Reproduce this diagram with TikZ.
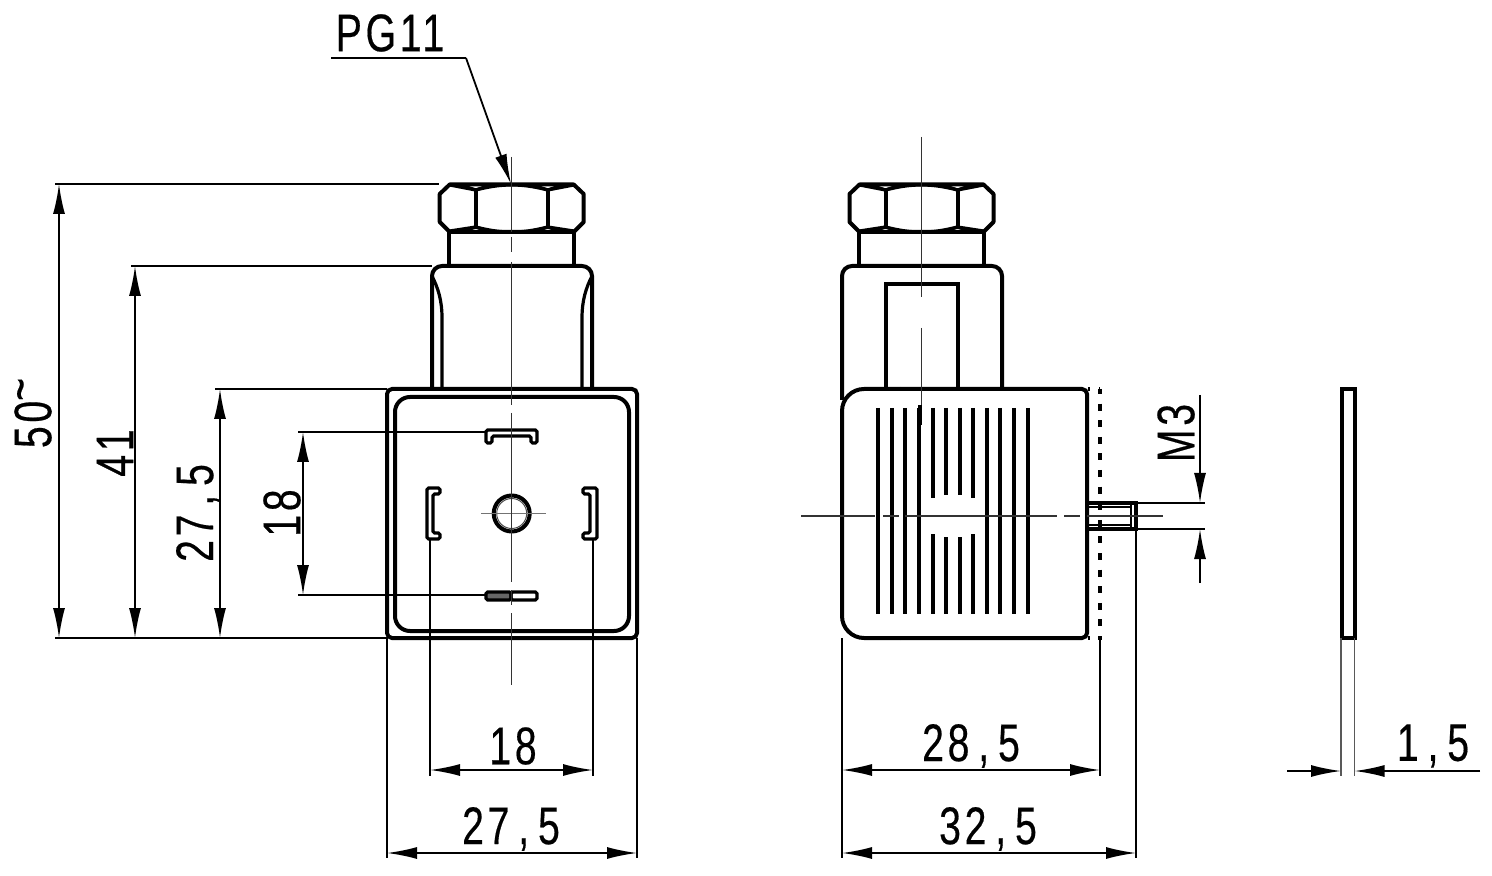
\documentclass[tikz,border=0pt]{standalone}
\usepackage{fontspec}
\setmainfont[FakeStretch=0.74,LetterSpace=7,FakeBold=0.35]{Liberation Sans}
\usetikzlibrary{arrows.meta}
\newcommand{\nutview}[1]{%
 \begin{scope}[shift={(#1,0)}]
  \draw[heavy,line join=round] (-72,194)--(-62,184.5)--(62,184.5)--(72,194)--(72,222)--(62,232)--(-62,232)--(-72,222)--cycle;
  \draw[medium] (-62,185)--(-36,190) .. controls (-20,186) and (-10,185) .. (0,185) .. controls (10,185) and (20,186) .. (36,190)--(62,185);
  \draw[medium] (-62,231)--(-36,227) .. controls (-20,231) and (-10,232) .. (0,232) .. controls (10,232) and (20,231) .. (36,227)--(62,231);
  \draw[medium] (-48,186)--(-36,190)--(-24,186) (48,186)--(36,190)--(24,186);
  \draw[medium] (-48,231)--(-36,227)--(-24,231) (48,231)--(36,227)--(24,231);
  \draw[heavy] (-36,190)--(-36,227) (36,190)--(36,227);
  \draw[heavy] (-62.5,232)--(-62.5,266) (62.5,232)--(62.5,266);
 \end{scope}}
\tikzset{
 x=0.5pt,y=-0.5pt,
 heavy/.style={line width=2pt,black},
 medium/.style={line width=1.6pt,black},
 thin line/.style={line width=0.9pt,black},
 axis line/.style={line width=0.75pt,black!80},
 ext/.style={thin line},
 dimtwo/.style={thin line,{Latex[length=15pt,width=6pt]}-{Latex[length=15pt,width=6pt]}},
 dimend/.style={thin line,-{Latex[length=15pt,width=6pt]}},
 lab/.style={inner sep=0pt,font=\fontsize{26.5}{31}\selectfont},
 slot/.style={line width=2pt,black},
}
\begin{document}
\begin{tikzpicture}
\useasboundingbox (0,0) rectangle (1492,876);
\fill[white] (0,0) rectangle (1492,876);

% ---- left view
\nutview{511.7}
\draw[heavy,rounded corners=5pt] (432,389)--(432,266)--(592,266)--(592,389);
\draw[medium] (432,276) .. controls (438,288) and (442,300) .. (442,318)--(442,389);
\draw[medium] (592,276) .. controls (586,288) and (582,300) .. (582,318)--(582,389);
\draw[heavy,rounded corners=2.5pt] (387,389) rectangle (637,638);
\draw[heavy,rounded corners=7.5pt] (395,397) rectangle (629,631);
% contact blades
\draw[medium,rounded corners=0.8pt] (486,430)--(537,430)--(537,443)--(531,443)--(531,436)--(492,436)--(492,443)--(486,443)--cycle;
\draw[medium,rounded corners=0.8pt] (427,488)--(440,488)--(440,494)--(433,494)--(433,533)--(440,533)--(440,539)--(427,539)--cycle;
\draw[medium,rounded corners=0.8pt] (597,488)--(583,488)--(583,494)--(590,494)--(590,533)--(583,533)--(583,539)--(597,539)--cycle;
\draw[medium,rounded corners=0.8pt,fill=black!60] (486,592) rectangle (511,600);
\draw[medium,rounded corners=0.8pt] (511,592) rectangle (537,600);
\draw[heavy] (511.7,513.5) circle[radius=18];
\draw[line width=0.5pt,black!70] (511.7,513.5) circle[radius=15];
\draw[line width=0.8pt,black!55] (481,513.5)--(546,513.5);
% centre line
\draw[axis line] (511.7,157)--(511.7,232) (511.7,237)--(511.7,252) (511.7,262)--(511.7,405)
 (511.7,413)--(511.7,582) (511.7,590)--(511.7,605) (511.7,613)--(511.7,685);

% left view dimensions
\draw[ext] (55,184)--(439,184) (55,638)--(387,638) (131,266)--(432,266) (215,389)--(387,389);
\draw[ext] (298,432)--(486,432) (298,595)--(486,595);
\draw[ext] (430,539)--(430,776) (593,539)--(593,776) (387,638)--(387,858) (637,638)--(637,858);
\draw[dimtwo] (59,184)--(59,638);
\draw[dimtwo] (135,266)--(135,638);
\draw[dimtwo] (220,389)--(220,638);
\draw[dimtwo] (303,432)--(303,595);
\draw[dimtwo] (430,770)--(593,770);
\draw[dimtwo] (387,853)--(637,853);
\node[lab,rotate=90] (d50) at (33,413) {50\raisebox{0.25em}{\smash{\textasciitilde}}};
\node[lab,rotate=90] (d41) at (115,453) {41};
\node[lab,rotate=90] (d275v) at (198,513) {27\,,\,5};
\node[lab,rotate=90] (d18v) at (282,513) {18};
\node[lab] (d18h) at (513,746) {18};
\node[lab] (d275h) at (511,829) {27\,,\,5};
\node[lab] (pg) at (390,33) {PG11};
\coordinate (leadA) at (331,58);
\coordinate (leadB) at (466,58);
\coordinate (leadC) at (511,184);
\draw[ext] (leadA)--(leadB);
\draw[dimend] (leadB)--(leadC);

% ---- right view
\nutview{921.5}
\draw[heavy,rounded corners=5pt] (842,400)--(842,266)--(1002,266)--(1002,389);
\draw[heavy] (886,388)--(886,284)--(958,284)--(958,388);
\draw[heavy,rounded corners=2.5pt] (1087,500)--(1087,389)--(900,389);
\draw[heavy,rounded corners=11pt] (900,389)--(842,389)--(842,638)--(900,638);
\draw[heavy,rounded corners=2.5pt] (900,638)--(1087,638)--(1087,500);
\foreach \vx in {878.3,891.7,905.3,919.3,986.7,1000.3,1014,1027.7}
 \draw[slot] (\vx,408)--(\vx,614);
\foreach \vx/\ya/\yb in {932.7/498/534,946.3/495/537,959.7/495/537,973.3/498/534}{
 \draw[slot] (\vx,408)--(\vx,\ya);
 \draw[slot] (\vx,\yb)--(\vx,614);
}
\draw[line width=2pt,dash pattern=on 3.5pt off 4.8pt,dash phase=1pt] (1100,389)--(1100,640);
\draw[line width=1.6pt,dash pattern=on 1pt off 4.5pt] (1088,389)--(1100,389) (1088,638)--(1100,638);
% stud
\draw[heavy] (1087,503)--(1136,503)--(1136,529)--(1087,529);
\draw[line width=1.2pt] (1087,507)--(1131,507) (1087,525)--(1131,525) (1131,503)--(1131,529);
% centre lines
\draw[axis line] (921.5,137)--(921.5,297) (921.5,328)--(921.5,425);
\draw[line width=1.6pt] (920,405)--(920,425);
\draw[axis line] (801,516)--(875,516) (883,516)--(899,516) (905,516)--(1057,516) (1064,516)--(1080,516) (1087,516)--(1163,516);

% right view dimensions
\draw[ext] (1136,503)--(1205,503) (1136,529)--(1205,529);
\draw[ext] (842,638)--(842,858) (1100,640)--(1100,776) (1136,529)--(1136,858);
\draw[dimend] (1200,395)--(1200,503);
\draw[dimend] (1200,583)--(1200,529);
\draw[dimtwo] (842,770)--(1100,770);
\draw[dimtwo] (842,853)--(1136,853);
\node[lab,rotate=90] (dm3) at (1176,433) {M3};
\node[lab] (d285) at (971,746) {28\,,\,5};
\node[lab] (d325) at (988,829) {32\,,\,5};

% ---- plate
\draw[line width=1.7pt] (1342,389) rectangle (1355,638);
\draw[line width=0.9pt,black!65] (1341,638)--(1341,776) (1354.5,638)--(1354.5,776);
\draw[dimend] (1287,771)--(1341,771);
\draw[dimend] (1480,771)--(1354.5,771);
\node[lab] (d15) at (1433,746) {1\,,\,5};
\end{tikzpicture}
\end{document}
